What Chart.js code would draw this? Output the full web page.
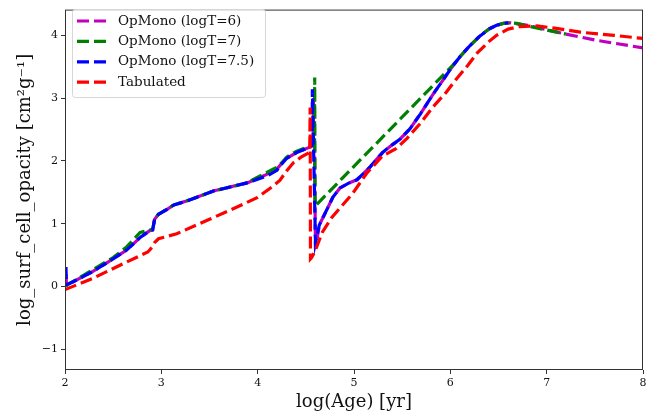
<!DOCTYPE html>
<html>
<head>
<meta charset="utf-8">
<script src="https://cdn.jsdelivr.net/npm/chart.js@4.4.1/dist/chart.umd.min.js"></script>
<style>
  html, body { margin: 0; padding: 0; background: #fff; }
  #wrap { width: 670px; height: 418px; }
</style>
</head>
<body>
<div id="wrap"><canvas id="chart" width="670" height="418"></canvas></div>
<script>
"use strict";

// log(Age) / log opacity
const mono6Age = [2.01, 2.015, 2.09, 2.29, 2.5, 2.64, 2.78, 2.88, 2.91, 2.93, 2.97, 3.06, 3.13, 3.26, 3.54, 3.89, 4.0, 4.1, 4.15, 4.2, 4.25, 4.3, 4.4, 4.51, 4.575, 4.58, 4.59, 4.6, 4.64, 4.72, 4.78, 4.855, 4.95, 5.03, 5.1, 5.17, 5.3, 5.4, 5.48, 5.58, 5.69, 5.82, 5.92, 6.01, 6.1, 6.2, 6.3, 6.4, 6.48, 6.55, 6.62, 6.8, 7.0, 7.17, 7.52, 8.0];
const mono6Opac = [0.2, 0.03, 0.08, 0.24, 0.44, 0.58, 0.78, 0.89, 0.9, 1.07, 1.15, 1.23, 1.3, 1.36, 1.52, 1.65, 1.72, 1.79, 1.83, 1.87, 1.96, 2.04, 2.13, 2.2, 2.24, 3.0, 2.2, 0.6, 0.98, 1.23, 1.42, 1.57, 1.65, 1.7, 1.8, 1.91, 2.14, 2.26, 2.35, 2.51, 2.75, 3.06, 3.28, 3.48, 3.66, 3.83, 3.98, 4.1, 4.16, 4.19, 4.2, 4.16, 4.09, 4.03, 3.92, 3.8];

const mono7Age = [2.01, 2.02, 2.29, 2.5, 2.64, 2.78, 2.88, 2.91, 2.93, 2.97, 3.06, 3.13, 3.26, 3.54, 3.89, 4.0, 4.1, 4.15, 4.2, 4.25, 4.3, 4.4, 4.55, 4.59, 4.592, 4.596, 6.03, 6.1, 6.2, 6.3, 6.4, 6.48, 6.55, 6.6, 6.69, 6.86, 7.17, 7.2];
const mono7Opac = [0.0, 0.02, 0.27, 0.46, 0.63, 0.86, 0.9, 0.91, 1.07, 1.15, 1.23, 1.3, 1.36, 1.52, 1.65, 1.74, 1.82, 1.86, 1.9, 1.97, 2.06, 2.15, 2.24, 2.27, 3.33, 1.28, 3.53, 3.66, 3.83, 3.98, 4.1, 4.16, 4.19, 4.2, 4.19, 4.13, 4.03, 4.02];

const mono75Age = [2.01, 2.015, 2.09, 2.29, 2.5, 2.64, 2.78, 2.88, 2.91, 2.93, 2.97, 3.06, 3.13, 3.26, 3.54, 3.89, 4.0, 4.1, 4.2, 4.25, 4.3, 4.4, 4.51, 4.565, 4.568, 4.6, 4.64, 4.72, 4.78, 4.855, 4.95, 5.03, 5.1, 5.17, 5.3, 5.4, 5.48, 5.58, 5.69, 5.82, 5.92, 6.01, 6.1, 6.2, 6.3, 6.4, 6.48, 6.55, 6.6];
const mono75Opac = [0.31, 0.03, 0.08, 0.24, 0.44, 0.58, 0.78, 0.89, 0.9, 1.07, 1.15, 1.23, 1.3, 1.36, 1.52, 1.65, 1.71, 1.76, 1.85, 1.95, 2.04, 2.13, 2.2, 2.25, 3.14, 0.7, 0.98, 1.23, 1.42, 1.57, 1.65, 1.7, 1.8, 1.91, 2.14, 2.26, 2.35, 2.51, 2.75, 3.06, 3.28, 3.48, 3.66, 3.83, 3.98, 4.1, 4.16, 4.19, 4.2];

const tabAge = [2.0, 2.29, 2.64, 2.86, 2.89, 2.93, 2.97, 3.16, 3.5, 3.85, 4.0, 4.09, 4.16, 4.23, 4.3, 4.37, 4.45, 4.52, 4.54, 4.545, 4.548, 4.56, 4.6, 4.67, 4.77, 4.855, 4.99, 5.13, 5.29, 5.44, 5.55, 5.69, 5.82, 5.95, 6.05, 6.18, 6.28, 6.4, 6.48, 6.6, 6.72, 6.9, 7.1, 7.35, 7.7, 8.0];
const tabOpac = [-0.05, 0.13, 0.39, 0.55, 0.6, 0.7, 0.76, 0.84, 1.07, 1.31, 1.42, 1.52, 1.6, 1.69, 1.84, 1.97, 2.06, 2.12, 2.14, 2.85, 0.44, 0.46, 0.58, 0.86, 1.1, 1.25, 1.49, 1.8, 2.07, 2.2, 2.36, 2.6, 2.86, 3.08, 3.28, 3.52, 3.72, 3.9, 4.0, 4.1, 4.14, 4.15, 4.11, 4.05, 4.0, 3.95];

const seriesLabels = ['OpMono (logT=6)', 'OpMono (logT=7)', 'OpMono (logT=7.5)', 'Tabulated'];
const seriesColors = ['#bf00bf', '#008000', '#0000ff', '#ff0000'];

const SERIF = '"DejaVu Serif", serif';

function pts(xs, ys) {
  return xs.map((x, i) => ({ x: x, y: ys[i] }));
}

function line(i, xs, ys, order) {
  return {
    label: seriesLabels[i],
    data: pts(xs, ys),
    borderColor: seriesColors[i],
    backgroundColor: seriesColors[i],
    borderWidth: 3.2,
    borderDash: [12, 5],
    showLine: true,
    pointRadius: 0,
    tension: 0,
    order: order
  };
}

// frame, axis titles and the legend box, matplotlib style
const decor = {
  id: 'decor',
  afterDraw(chart) {
    const { ctx, chartArea: a } = chart;
    ctx.save();
    ctx.strokeStyle = '#333';
    ctx.lineWidth = 1;
    ctx.strokeRect(a.left + 0.5, a.top + 0.5, a.right - a.left - 1, a.bottom - a.top - 1);

    ctx.fillStyle = '#111';
    ctx.font = '18px ' + SERIF;
    ctx.textAlign = 'center';
    ctx.textBaseline = 'middle';
    ctx.fillText('log(Age) [yr]', (a.left + a.right) / 2, 402);
    ctx.translate(25, (a.top + a.bottom) / 2);
    ctx.rotate(-Math.PI / 2);
    ctx.fillText('log_surf_cell_opacity [cm\u00b2g\u207b\u00b9]', 0, 0);
    ctx.restore();

    // legend
    ctx.save();
    const bx = 72, by = 9, bw = 193, bh = 88;
    ctx.fillStyle = 'rgba(255,255,255,0.8)';
    ctx.strokeStyle = '#d6d6d6';
    ctx.lineWidth = 1;
    ctx.beginPath();
    ctx.roundRect(bx + 0.5, by + 0.5, bw, bh, 3);
    ctx.fill();
    ctx.stroke();
    ctx.font = '13.5px ' + SERIF;
    ctx.textAlign = 'left';
    ctx.textBaseline = 'middle';
    seriesLabels.forEach((lab, i) => {
      const y = 21 + i * 20.4;
      ctx.strokeStyle = seriesColors[i];
      ctx.lineWidth = 3.2;
      ctx.setLineDash([12, 5]);
      ctx.beginPath();
      ctx.moveTo(77, y);
      ctx.lineTo(107, y);
      ctx.stroke();
      ctx.fillStyle = '#111';
      ctx.fillText(lab, 118, y);
    });
    ctx.restore();
  }
};

const config = {
  type: 'scatter',
  data: {
    datasets: [
      line(0, mono6Age, mono6Opac, 4),
      line(1, mono7Age, mono7Opac, 3),
      line(2, mono75Age, mono75Opac, 2),
      line(3, tabAge, tabOpac, 1)
    ]
  },
  options: {
    responsive: false,
    animation: false,
    layout: { padding: { top: 4, right: 27, bottom: 0, left: 0 } },
    plugins: {
      legend: { display: false },
      tooltip: { enabled: false }
    },
    scales: {
      x: {
        type: 'linear',
        min: 2,
        max: 8,
        afterFit: (s) => { s.height = 48; },
        border: { display: false },
        grid: { drawOnChartArea: false, tickLength: 4, tickColor: '#333' },
        ticks: {
          stepSize: 1,
          padding: 3,
          color: '#111',
          font: { family: SERIF, size: 11 }
        }
      },
      y: {
        type: 'linear',
        min: -1.33,
        max: 4.41,
        afterFit: (s) => { s.width = 65; },
        afterBuildTicks: (s) => { s.ticks = s.ticks.filter(t => Number.isInteger(t.value)); },
        border: { display: false },
        grid: { drawOnChartArea: false, tickLength: 4, tickColor: '#333' },
        ticks: {
          stepSize: 1,
          padding: 3,
          color: '#111',
          font: { family: SERIF, size: 11 },
          callback: (v) => (v < 0 ? '\u2212' + Math.abs(v) : String(v))
        }
      }
    }
  },
  plugins: [decor]
};

new Chart(document.getElementById('chart'), config);
</script>
</body>
</html>
